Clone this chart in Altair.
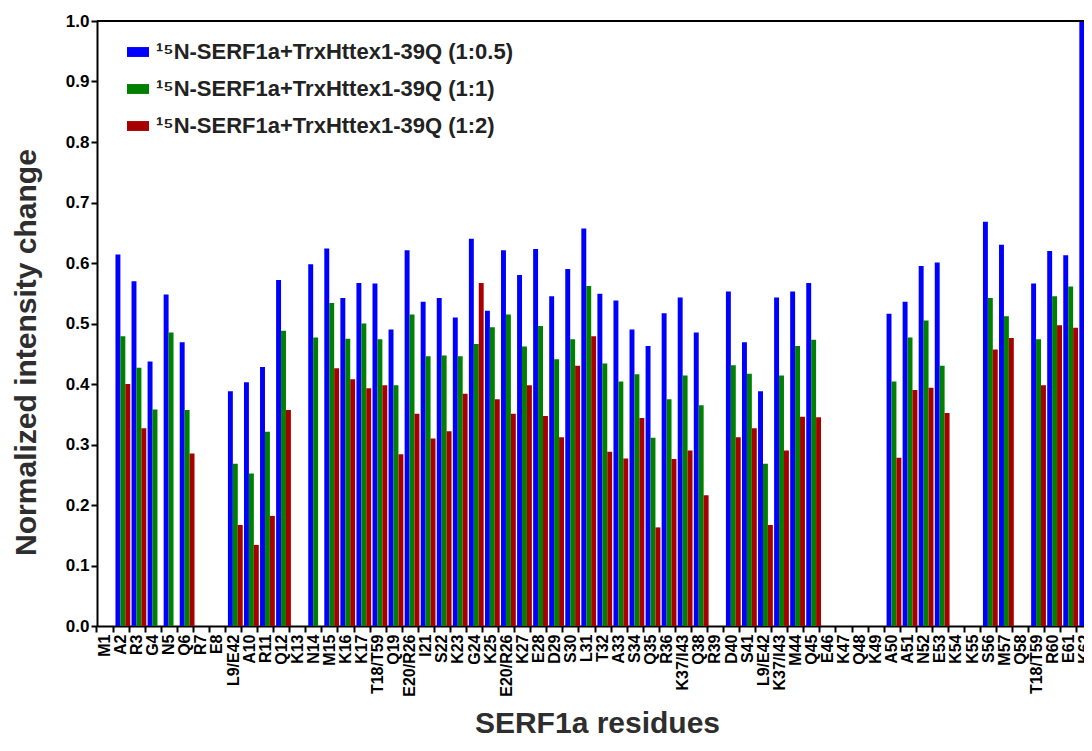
import altair as alt
import pandas as pd

residues = ["M1", "A2", "R3", "G4", "N5", "Q6", "R7", "E8", "L9/E42", "A10",
            "R11", "Q12", "K13", "N14", "M15", "K16", "K17", "T18/T59", "Q19", "E20/R26",
            "I21", "S22", "K23", "G24", "K25", "E20/R26", "K27", "E28", "D29", "S30",
            "L31", "T32", "A33", "S34", "Q35", "R36", "K37/I43", "Q38", "R39", "D40",
            "S41", "L9/E42", "K37/I43", "M44", "Q45", "E46", "K47", "Q48", "K49", "A50",
            "A51", "N52", "E53", "K54", "K55", "S56", "M57", "Q58", "T18/T59", "R60",
            "E61", "K62"]

ratio_05 = [None, 0.614, 0.570, 0.437, 0.548, 0.469, None, None, 0.388, 0.403,
            0.428, 0.572, None, 0.598, 0.624, 0.542, 0.567, 0.566, 0.490, 0.621,
            0.536, 0.542, 0.510, 0.640, 0.521, 0.621, 0.580, 0.623, 0.545, 0.590,
            0.657, 0.549, 0.538, 0.490, 0.463, 0.517, 0.543, 0.485, None, 0.553,
            0.469, 0.388, 0.543, 0.553, 0.567, None, None, None, None, 0.516,
            0.536, 0.595, 0.601, None, None, 0.668, 0.630, None, 0.566, 0.620,
            0.613, 1.000]

ratio_1 = [None, 0.479, 0.427, 0.358, 0.485, 0.357, None, None, 0.268, 0.252,
           0.321, 0.488, None, 0.477, 0.534, 0.475, 0.500, 0.474, 0.398, 0.515,
           0.446, 0.447, 0.446, 0.466, 0.494, 0.515, 0.462, 0.496, 0.441, 0.474,
           0.562, 0.434, 0.404, 0.416, 0.311, 0.375, 0.414, 0.365, None, 0.431,
           0.417, 0.268, 0.414, 0.463, 0.473, None, None, None, None, 0.404,
           0.477, 0.505, 0.430, None, None, 0.542, 0.512, None, 0.474, 0.545,
           0.561, None]

ratio_2 = [None, 0.400, 0.327, None, None, 0.285, None, None, 0.167, 0.134,
           0.182, 0.357, None, None, 0.426, 0.408, 0.393, 0.398, 0.284, 0.351,
           0.310, 0.322, 0.384, 0.567, 0.375, 0.351, 0.398, 0.347, 0.312, 0.430,
           0.479, 0.288, 0.277, 0.344, 0.163, 0.276, 0.290, 0.216, None, 0.312,
           0.327, 0.167, 0.290, 0.346, 0.345, None, None, None, None, 0.278,
           0.390, 0.394, 0.352, None, None, 0.457, 0.476, None, 0.398, 0.497,
           0.493, None]

series_names = ["\u00b9\u2075N-SERF1a+TrxHttex1-39Q (1:0.5)",
                "\u00b9\u2075N-SERF1a+TrxHttex1-39Q (1:1)",
                "\u00b9\u2075N-SERF1a+TrxHttex1-39Q (1:2)"]
colors = ["#0000FF", "#008000", "#A80000"]
y_ticks = [0.0, 0.1, 0.2, 0.3, 0.4, 0.5, 0.6, 0.7, 0.8, 0.9, 1.0]

rows = []
for name, vals in zip(series_names, [ratio_05, ratio_1, ratio_2]):
    for i, v in enumerate(vals):
        if v is not None:
            rows.append({"idx": i, "series": name, "value": v})
df = pd.DataFrame(rows)

label_expr = "[" + ",".join("'" + r + "'" for r in residues) + "][datum.value]"
n = len(residues)

bars = alt.Chart(df).mark_bar().encode(
    x=alt.X("idx:O",
            scale=alt.Scale(domain=list(range(n)), paddingInner=0, paddingOuter=0),
            axis=alt.Axis(title="SERF1a residues", labelExpr=label_expr,
                          bandPosition=0, labelAngle=270, labelFontSize=16,
                          labelPadding=2, labelOverlap=False,
                          titleFontSize=30, titleX=500, titleY=112,
                          titleAlign="center", titleBaseline="bottom")),
    xOffset=alt.XOffset("series:N",
                        scale=alt.Scale(domain=series_names, range=[2.4, 17.2])),
    y=alt.Y("value:Q",
            scale=alt.Scale(domain=[0, 1], nice=False),
            axis=alt.Axis(title="Normalized intensity change", values=y_ticks,
                          format=".1f", labelFontSize=17, labelPadding=2,
                          titleFontSize=30, titleAngle=270, titleX=-71, titleY=331,
                          titleAlign="center", titleBaseline="middle")),
    color=alt.Color("series:N",
                    scale=alt.Scale(domain=series_names, range=colors),
                    legend=alt.Legend(title=None, orient="none", legendX=30, legendY=20,
                                      padding=0, labelFontSize=22, labelFontWeight="bold",
                                      labelColor="#222222", labelLimit=700,
                                      labelOffset=7, rowPadding=15,
                                      symbolType="M-1,-0.45H1V0.45H-1Z",
                                      symbolSize=484, symbolStrokeWidth=0,
                                      symbolOpacity=1)),
)

frame = alt.Chart(alt.Data(values=[{"a": 1}])).mark_rule(
    color="black", strokeWidth=2
).encode(x=alt.value(0), x2=alt.value(1010), y=alt.value(0))

chart = alt.layer(bars, frame).properties(
    width=996, height=605,
    autosize=alt.AutoSizeParams(type="none"),
    padding={"left": 89, "top": 13, "right": -9, "bottom": 112},
).configure(
    font="Arial"
).configure_view(
    stroke=None
).configure_axis(
    domainColor="black", domainWidth=2, tickColor="black", tickWidth=2,
    tickSize=6, labelColor="black", labelFontWeight="bold", labelFont="Arial",
    titleFont="Arial", titleFontWeight="bold", titleColor="#2e2e2e", grid=False
).configure_legend(
    labelFont="Arial"
)

chart.save("out.html", embed_options={"renderer": "svg", "actions": False})
